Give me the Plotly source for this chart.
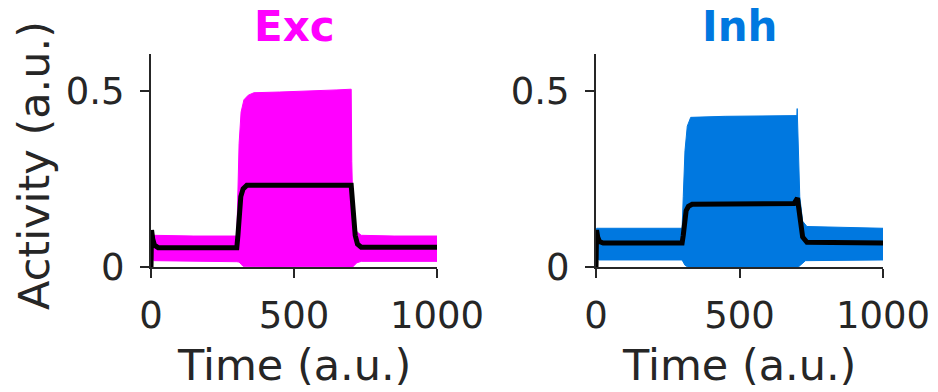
import plotly.graph_objects as go

W, H = 938, 392

# ---------------- data ----------------
exc_mean_t = [0, 2, 6, 12, 25, 300, 304, 308, 314, 322, 335, 700, 703, 708, 714, 722, 735, 1000]
exc_mean = [0.0, 0.105, 0.08, 0.062, 0.055, 0.055, 0.09, 0.15, 0.20, 0.222, 0.232, 0.232, 0.20, 0.14, 0.09, 0.065, 0.056, 0.056]

exc_up_t = [0, 2, 10, 150, 300, 303, 308, 315, 325, 340, 360, 450, 550, 650, 700, 702, 706, 712, 720, 735, 850, 1000]
exc_up = [0.0, 0.10, 0.09, 0.088, 0.088, 0.20, 0.35, 0.44, 0.475, 0.488, 0.495, 0.497, 0.499, 0.503, 0.505, 0.30, 0.16, 0.12, 0.10, 0.09, 0.088, 0.088]
exc_lo_t = [0, 2, 10, 300, 308, 315, 322, 330, 700, 705, 712, 720, 735, 1000]
exc_lo = [0.0, 0.03, 0.018, 0.015, 0.014, 0.008, 0.002, 0.0, 0.0, 0.0, 0.004, 0.012, 0.016, 0.016]

inh_mean_t = [0, 2, 6, 12, 25, 300, 304, 308, 314, 322, 335, 690, 698, 702, 706, 712, 720, 735, 1000]
inh_mean = [0.0, 0.105, 0.085, 0.072, 0.068, 0.068, 0.09, 0.13, 0.16, 0.172, 0.178, 0.18, 0.19, 0.196, 0.17, 0.12, 0.085, 0.07, 0.068]

inh_up_t = [0, 2, 10, 300, 304, 310, 318, 330, 450, 600, 700, 701, 704, 710, 720, 735, 1000]
inh_up = [0.0, 0.11, 0.11, 0.11, 0.20, 0.33, 0.40, 0.425, 0.428, 0.43, 0.43, 0.45, 0.35, 0.20, 0.13, 0.115, 0.11]
inh_lo_t = [0, 2, 10, 300, 310, 320, 705, 715, 730, 1000]
inh_lo = [0.0, 0.03, 0.02, 0.02, 0.005, 0.0, 0.0, 0.008, 0.018, 0.02]

x_ticks = [0, 500, 1000]
y_ticks = [0, 0.5]
y_range = [0, 0.605]

EXC_COL = "#ff00ff"
INH_COL = "#0078e0"
TXT = "#262626"
FONT = "DejaVu Sans"

fig = go.Figure()


def band(t_up, up, t_lo, lo, color, xa, ya):
    xs = list(t_up) + list(reversed(t_lo))
    ys = list(up) + list(reversed(lo))
    fig.add_trace(go.Scatter(x=xs, y=ys, mode="lines", fill="toself",
                             fillcolor=color, line=dict(color=color, width=1),
                             xaxis=xa, yaxis=ya, showlegend=False, hoverinfo="skip"))


band(exc_up_t, exc_up, exc_lo_t, exc_lo, EXC_COL, "x", "y")
fig.add_trace(go.Scatter(x=exc_mean_t, y=exc_mean, mode="lines",
                         line=dict(color="black", width=5), xaxis="x", yaxis="y", showlegend=False))
band(inh_up_t, inh_up, inh_lo_t, inh_lo, INH_COL, "x2", "y2")
fig.add_trace(go.Scatter(x=inh_mean_t, y=inh_mean, mode="lines",
                         line=dict(color="black", width=5), xaxis="x2", yaxis="y2", showlegend=False))

axis_common = dict(showgrid=False, zeroline=False, showline=True, linewidth=2, linecolor=TXT,
                   ticks="outside", ticklen=9, tickwidth=2, tickcolor=TXT, automargin=False,
                   tickfont=dict(family=FONT, size=37, color=TXT))

xd1 = [151 / W, 437 / W]
xd2 = [596 / W, 883 / W]
yd = [(H - 267) / H, (H - 54) / H]

fig.update_layout(
    width=W, height=H, autosize=False, margin=dict(l=0, r=0, t=0, b=0, pad=0, autoexpand=False),
    paper_bgcolor="white", plot_bgcolor="white",
    xaxis=dict(domain=xd1, range=[0, 1000], tickvals=x_ticks, anchor="y",
               ticklabelstandoff=6, **axis_common),
    yaxis=dict(domain=yd, range=y_range, tickvals=y_ticks, anchor="x",
               ticklabelstandoff=8, **axis_common),
    xaxis2=dict(domain=xd2, range=[0, 1000], tickvals=x_ticks, anchor="y2",
                ticklabelstandoff=6, **axis_common),
    yaxis2=dict(domain=yd, range=y_range, tickvals=y_ticks, anchor="x2",
                ticklabelstandoff=8, **axis_common),
)

lab_font = dict(family=FONT, size=43, color=TXT)
ann = [
    dict(text="<b>Exc</b>", x=294 / W, y=1 - 27 / H, font=dict(family=FONT, size=42, color=EXC_COL)),
    dict(text="<b>Inh</b>", x=739 / W, y=1 - 27 / H, font=dict(family=FONT, size=42, color=INH_COL)),
    dict(text="Time (a.u.)", x=294 / W, y=1 - 365 / H, font=lab_font),
    dict(text="Time (a.u.)", x=739 / W, y=1 - 365 / H, font=lab_font),
    dict(text="Activity (a.u.)", x=34 / W, y=1 - 166 / H, font=lab_font, textangle=-90),
]
for a in ann:
    fig.add_annotation(xref="paper", yref="paper", showarrow=False,
                       xanchor="center", yanchor="middle", **a)

fig.write_html("out.html")
